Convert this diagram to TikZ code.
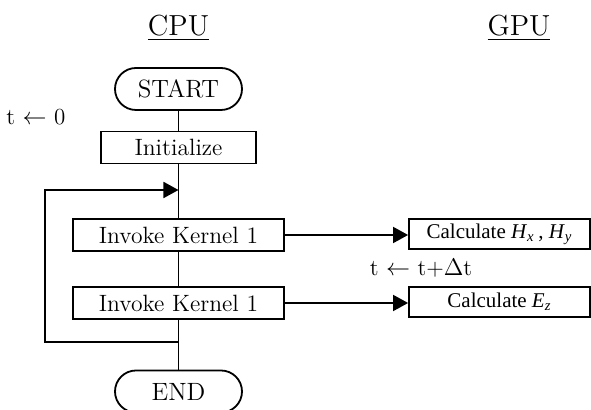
\documentclass[tikz,border=0pt]{standalone}
\usepackage{fontspec}
\newfontfamily\tmsfont{Liberation Serif}
\usetikzlibrary{arrows.meta,positioning}

\tikzset{
  flow/.style={line width=0.9pt},
  flowarr/.style={flow, -{Triangle[length=7.5pt,width=8pt]}},
  termbox/.style={draw, flow, rounded corners=10.5pt, minimum width=63.5pt,
                  minimum height=21pt, inner sep=0pt, font=\fontsize{12.5}{15}\selectfont},
  cpubox/.style={draw, flow, minimum height=16pt, inner sep=0pt,
                 font=\fontsize{11.8}{14}\selectfont},
  gpubox/.style={draw, flow, minimum width=90.5pt, minimum height=15pt, inner sep=0pt,
                 font=\tmsfont\fontsize{10.5}{12}\selectfont},
  sidetxt/.style={font=\fontsize{11.5}{14}\selectfont},
  headtxt/.style={font=\fontsize{14.5}{17}\selectfont}
}

\begin{document}
\begin{tikzpicture}[x=0.5pt, y=-0.5pt]

% ================================================================
%  Marco: 591 x 410 (pixeles de la referencia, y hacia abajo)
% ================================================================
\useasboundingbox (0,0) rectangle (591,410);

% Cabeceras
\node[headtxt] (cpu) at (178.5, 28) {\underline{CPU}};
\node[headtxt] (gpu) at (519, 28)   {\underline{GPU}};

% Columna CPU
\node[termbox] (start) at (178.5, 89)  {START};
\node[cpubox, minimum width=77.5pt] (init) at (178.5, 147.5) {Initialize};
\node[cpubox, minimum width=105.5pt] (kone) at (178.5, 235) {Invoke Kernel 1};
\node[cpubox, minimum width=105.5pt] (ktwo) at (178.5, 303) {Invoke Kernel 1};
\node[termbox] (end) at (178.5, 391.5) {END};

\node[sidetxt] (tzero) at (36, 117) {t $\leftarrow$ 0};

% Columna GPU
\node[gpubox] (calcH) at (499.5, 234) {Calculate \textit{H}\textsubscript{\textit{x}}\,, \textit{H}\textsubscript{\textit{y}}};
\node[gpubox] (calcE) at (499.5, 302) {Calculate \textit{E}\textsubscript{\textit{z}}};

\node[sidetxt] (tstep) at (421, 268) {t $\leftarrow$ t+$\Delta$t};

% Lineas verticales
\coordinate (looptop) at (178.5, 190);
\coordinate (loopbot) at (178.5, 342);
\draw[flow] (start) -- (init);
\draw[flow] (init) -- (kone);
\draw[flow] (kone) -- (ktwo);
\draw[flow] (ktwo) -- (end);

% Lazo de tiempo
\draw[flowarr] (loopbot) -- (45, 342) -- (45, 190) -- (looptop);

% Llamadas a los kernels
\draw[flowarr] (kone) -- (calcH.west |- kone);
\draw[flowarr] (ktwo) -- (calcE.west |- ktwo);

\end{tikzpicture}
\end{document}
